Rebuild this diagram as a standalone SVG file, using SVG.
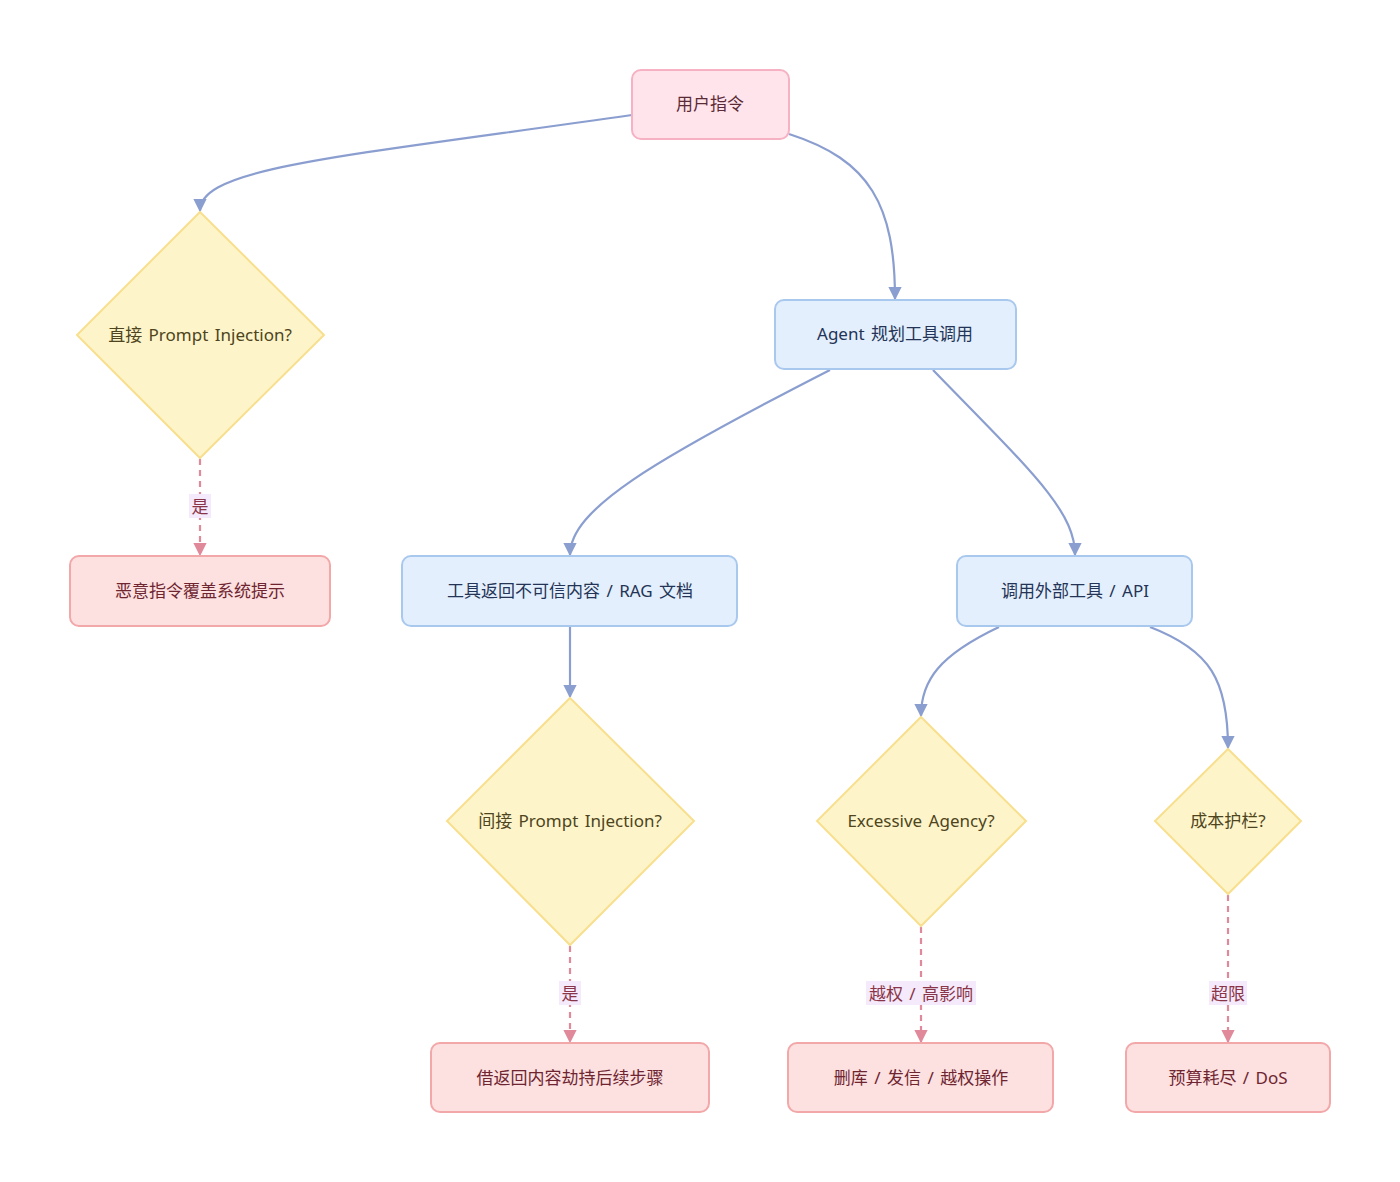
<svg xmlns="http://www.w3.org/2000/svg" width="1400" height="1182" viewBox="0 0 1400 1182">
<style>
text{font-family:"Noto Sans","Noto Sans CJK SC",sans-serif;font-size:17px;text-anchor:middle;dominant-baseline:central;word-spacing:2px}
.top rect{fill:#ffe4ec;stroke:#f6b1c3;stroke-width:2}
.top text{fill:#5a2a35}
.blue rect{fill:#e3effd;stroke:#a9c8ee;stroke-width:2}
.blue text{fill:#233456}
.dia polygon{fill:#fdf5c9;stroke:#f8df8e;stroke-width:2}
.dia text{fill:#4e4420}
.red rect{fill:#fde0e0;stroke:#f2a7a9;stroke-width:2}
.red text{fill:#6e2530}
.e{fill:none;stroke:#8b9ed0;stroke-width:2.2}
.d{fill:none;stroke:#e0899a;stroke-width:2.2;stroke-dasharray:6 5}
.lb rect{fill:#f4eafb}
.lb text{fill:#8a3447}
</style>
<defs>
<marker id="ab" viewBox="0 0 10 10" refX="9" refY="5" markerWidth="6" markerHeight="6" orient="auto"><path d="M0,0 L10,5 L0,10 z" fill="#8b9ed0"/></marker>
<marker id="ar" viewBox="0 0 10 10" refX="9" refY="5" markerWidth="6" markerHeight="6" orient="auto"><path d="M0,0 L10,5 L0,10 z" fill="#e0899a"/></marker>
</defs>
<g id="edges">
<path class="e" d="M632,115 C330,158 200,168 200,211" marker-end="url(#ab)"/>
<path class="e" d="M789,134 C870,160 895,205 895,299" marker-end="url(#ab)"/>
<path class="e" d="M830,370 C650,462 570,510 570,555" marker-end="url(#ab)"/>
<path class="e" d="M933,370 C1030,470 1075,510 1075,555" marker-end="url(#ab)"/>
<path class="e" d="M570,627 L570,697" marker-end="url(#ab)"/>
<path class="e" d="M999,627 C940,655 921,680 921,716" marker-end="url(#ab)"/>
<path class="e" d="M1150,627 C1210,650 1228,680 1228,748" marker-end="url(#ab)"/>
<path class="d" d="M200,459 L200,555" marker-end="url(#ar)"/>
<path class="d" d="M570,946 L570,1042" marker-end="url(#ar)"/>
<path class="d" d="M921,927 L921,1042" marker-end="url(#ar)"/>
<path class="d" d="M1228,895 L1228,1042" marker-end="url(#ar)"/>
<g class="lb"><rect x="189" y="494" width="22" height="24"/><text x="200" y="506">是</text></g>
<g class="lb"><rect x="559" y="981" width="22" height="24"/><text x="570" y="993">是</text></g>
<g class="lb"><rect x="866" y="981" width="110" height="24"/><text x="921" y="993">越权 / 高影响</text></g>
<g class="lb"><rect x="1209" y="981" width="38" height="24"/><text x="1228" y="993">超限</text></g>
</g>
<g id="n_user" class="top"><rect x="632" y="70" width="157" height="69" rx="9"/><text x="710" y="103">用户指令</text></g>
<g id="n_direct" class="dia"><polygon points="200,212 324,335 200,458 77,335"/><text x="200" y="334">直接 Prompt Injection?</text></g>
<g id="n_agent" class="blue"><rect x="775" y="300" width="241" height="69" rx="9"/><text x="895" y="333">Agent 规划工具调用</text></g>
<g id="n_malicious" class="red"><rect x="70" y="556" width="260" height="70" rx="9"/><text x="200" y="590">恶意指令覆盖系统提示</text></g>
<g id="n_tool" class="blue"><rect x="402" y="556" width="335" height="70" rx="9"/><text x="570" y="590">工具返回不可信内容 / RAG 文档</text></g>
<g id="n_ext" class="blue"><rect x="957" y="556" width="235" height="70" rx="9"/><text x="1075" y="590">调用外部工具 / API</text></g>
<g id="n_indirect" class="dia"><polygon points="570,698 694,821 570,945 447,821"/><text x="570" y="820">间接 Prompt Injection?</text></g>
<g id="n_excess" class="dia"><polygon points="921,717 1026,821 921,926 817,821"/><text x="921" y="820">Excessive Agency?</text></g>
<g id="n_cost" class="dia"><polygon points="1228,749 1301,821 1228,894 1155,821"/><text x="1228" y="820">成本护栏?</text></g>
<g id="n_hijack" class="red"><rect x="431" y="1043" width="278" height="69" rx="9"/><text x="570" y="1077">借返回内容劫持后续步骤</text></g>
<g id="n_delete" class="red"><rect x="788" y="1043" width="265" height="69" rx="9"/><text x="921" y="1077">删库 / 发信 / 越权操作</text></g>
<g id="n_budget" class="red"><rect x="1126" y="1043" width="204" height="69" rx="9"/><text x="1228" y="1077">预算耗尽 / DoS</text></g>
</svg>
